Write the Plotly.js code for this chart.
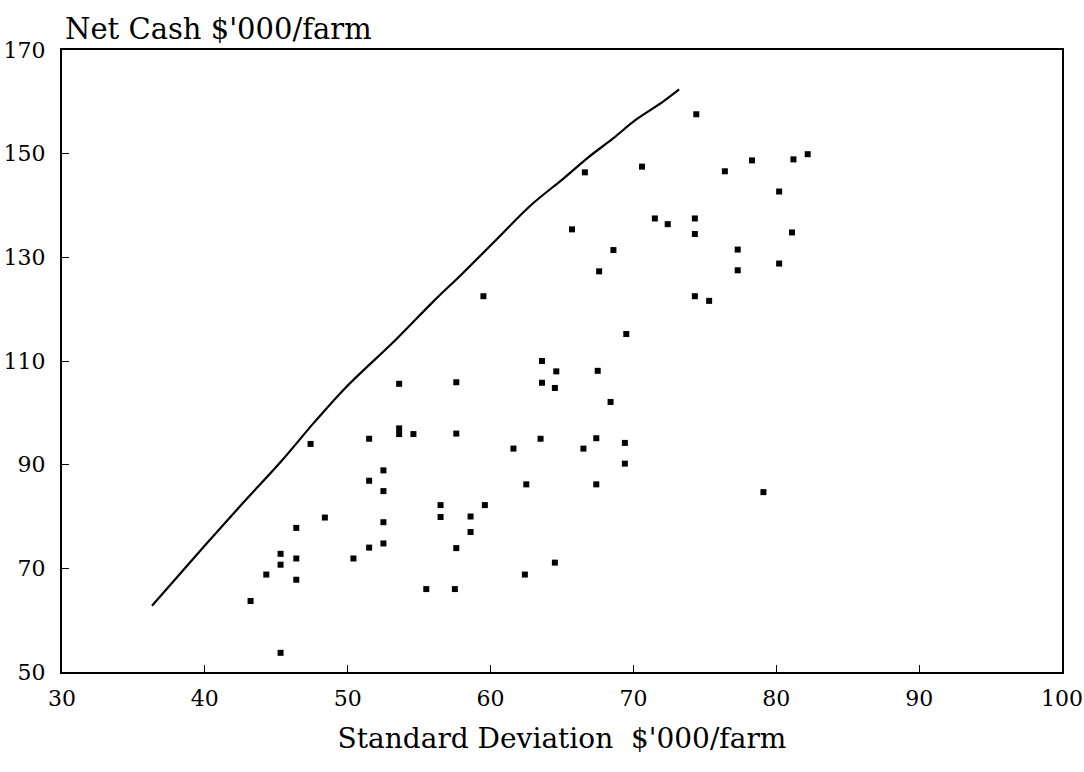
<!DOCTYPE html>
<html>
<head>
<meta charset="utf-8">
<script src="https://cdn.plot.ly/plotly-3.0.1.min.js"></script>
<style>html,body{margin:0;padding:0;background:#fff;}#chart{width:1084px;height:772px;}</style>
</head>
<body>
<div id="chart"></div>
<script>
// Farm plans: standard deviation ($'000/farm) vs net cash ($'000/farm)
const planSD = [43.2,44.3,45.3,45.3,45.3,46.4,46.4,46.4,47.4,48.4,50.4,51.5,51.5,51.5,52.5,52.5,52.5,52.5,53.6,53.6,53.6,54.6,55.5,56.5,56.5,57.6,57.6,57.6,57.5,58.6,58.6,59.6,59.5,61.6,62.5,62.4,63.6,63.6,63.5,64.6,64.5,64.5,65.7,66.6,66.5,67.4,67.5,67.4,67.6,68.4,68.6,69.4,69.4,69.5,70.6,71.5,72.4,74.4,74.3,74.3,74.3,75.3,76.4,77.3,77.3,78.3,79.1,80.2,80.2,81.2,81.1,82.2];
const planCash = [63.7,68.8,72.8,70.7,53.7,77.8,71.9,67.8,94.0,79.8,71.9,95.0,86.9,74.0,88.9,84.9,78.9,74.8,105.6,97.0,95.9,95.9,66.0,82.2,79.9,105.9,96.0,73.9,66.0,80.0,77.0,82.2,122.5,93.1,86.2,68.8,110.0,105.8,95.0,108.0,104.8,71.1,135.4,146.4,93.1,95.1,108.1,86.2,127.3,102.1,131.4,94.2,90.2,115.2,147.5,137.5,136.4,157.6,137.5,134.5,122.5,121.6,146.6,131.5,127.5,148.7,84.7,142.7,128.8,148.9,134.8,149.9];
// Efficient frontier
const frontierSD = [36.3,40.0,42.6,45.3,47.7,49.9,53.4,56.0,58.0,60.4,62.8,65.1,66.8,68.6,70.2,72.0,73.2];
const frontierCash = [62.8,74.4,82.4,90.5,98.3,105.0,114.2,121.5,126.8,133.4,140.0,145.2,149.2,153.0,156.6,159.9,162.4];
const xTicks = [30,40,50,60,70,80,90,100];
const yTicks = [50,70,90,110,130,150,170];

const fontFam = '"DejaVu Serif", "Liberation Serif", serif';
const traces = [
  {x: frontierSD, y: frontierCash, mode: 'lines', line: {color: '#000', width: 2.2, shape: 'spline', smoothing: 1}, hoverinfo: 'skip', showlegend: false},
  {x: planSD, y: planCash, mode: 'markers', marker: {symbol: 'square', size: 6, color: '#000'}, showlegend: false}
];
const layout = {
  width: 1084, height: 772,
  margin: {l: 62, r: 22, t: 50, b: 100},
  paper_bgcolor: '#fff', plot_bgcolor: '#fff',
  font: {family: fontFam, color: '#000', size: 22},
  title: {text: "Net Cash $'000/farm", x: 0.06, xanchor: 'left', xref: 'container', y: 0.962, yanchor: 'middle', font: {family: fontFam, size: 29, color: '#000'}},
  xaxis: {
    range: [30, 100], tickvals: xTicks, ticktext: xTicks.map(String),
    showgrid: false, zeroline: false, showline: true, linecolor: '#000', linewidth: 2, mirror: true,
    ticks: 'inside', ticklen: 7, tickwidth: 1, tickcolor: '#000',
    ticklabelstandoff: 6,
    tickfont: {family: fontFam, size: 22, color: '#000'},
    title: {text: "Standard Deviation  $'000/farm", standoff: 18, font: {family: fontFam, size: 28, color: '#000'}}
  },
  yaxis: {
    range: [50, 170], tickvals: yTicks, ticktext: yTicks.map(String),
    showgrid: false, zeroline: false, showline: true, linecolor: '#000', linewidth: 2, mirror: true,
    ticks: 'inside', ticklen: 7, tickwidth: 1, tickcolor: '#000',
    ticklabelstandoff: 10,
    tickfont: {family: fontFam, size: 22, color: '#000'}
  }
};
Plotly.newPlot('chart', traces, layout, {displayModeBar: false, staticPlot: true});
</script>
</body>
</html>
